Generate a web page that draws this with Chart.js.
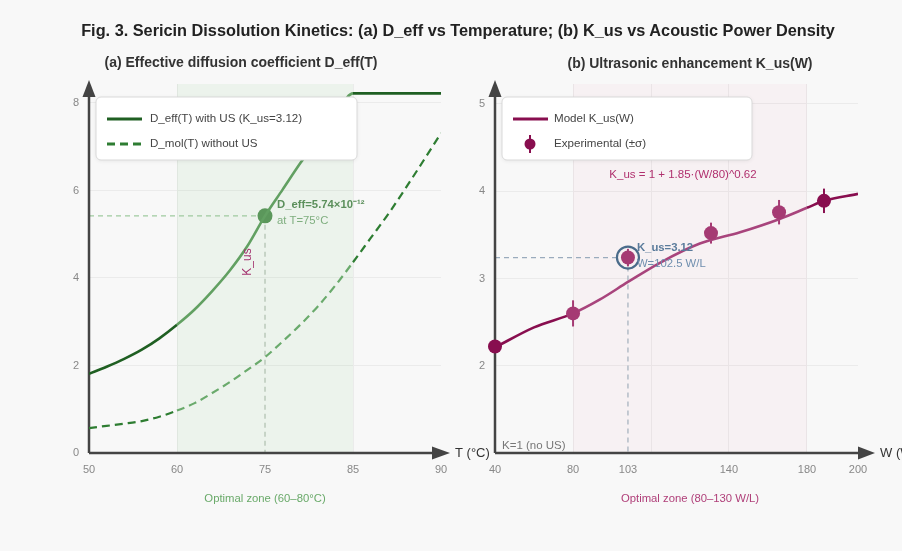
<!DOCTYPE html>
<html>
<head>
<meta charset="utf-8">
<script src="https://cdn.jsdelivr.net/npm/chart.js@4.4.0/dist/chart.umd.min.js"></script>
<style>
  html, body { margin: 0; padding: 0; background: #f8f8f8; }
  #wrap { position: relative; width: 902px; height: 551px; overflow: hidden; font-family: "Liberation Sans", Arial, sans-serif; }
  canvas { position: absolute; left: 0; top: 0; }
  .t { position: absolute; white-space: nowrap; font-weight: bold; color: #333; transform: translate(-50%, -50%); }
</style>
</head>
<body>
<div id="wrap">
  <canvas id="panelA" width="902" height="551"></canvas>
  <canvas id="panelB" width="902" height="551"></canvas>
  <div class="t" style="left:458px;top:30px;font-size:16.3px;color:#222">Fig. 3. Sericin Dissolution Kinetics: (a) D_eff vs Temperature; (b) K_us vs Acoustic Power Density</div>
  <div class="t" style="left:241px;top:62px;font-size:14px">(a) Effective diffusion coefficient D_eff(T)</div>
  <div class="t" style="left:690px;top:63px;font-size:14px">(b) Ultrasonic enhancement K_us(W)</div>
</div>
<script>
const FONT = '"Liberation Sans", Arial, sans-serif';
Chart.defaults.font.family = FONT;

// ---- panel (a): diffusion vs temperature
const tempT = [50, 52, 54, 56, 58, 60, 62, 64, 66, 68, 70, 72, 74, 76, 78, 80, 82, 84, 86, 88, 90];
const dEffUS = [1.81, 1.97, 2.15, 2.36, 2.62, 2.93, 3.28, 3.70, 4.17, 4.73, 5.42, 6.02, 6.62, 7.18, 7.72, 8.22, 8.22, 8.22, 8.22, 8.22, 8.22];
const dMol = [0.57, 0.62, 0.67, 0.73, 0.83, 0.97, 1.14, 1.37, 1.62, 1.90, 2.19, 2.55, 2.93, 3.35, 3.83, 4.36, 4.91, 5.46, 6.06, 6.68, 7.31];
const tickT = [50, 60, 70, 80, 90];
const tickTLabels = ['50', '60', '75', '85', '90'];
const tickD = [0, 2, 4, 6, 8];
const zoneT = [60, 80];
const markT = 70, markD = 5.42;

// ---- panel (b): enhancement vs power density
const powerW = [40, 57.2, 74.4, 86.3, 98.6, 112.7, 130.3, 148.0, 165.2, 177.5, 185.0, 200];
const kModel = [2.21, 2.44, 2.60, 2.76, 2.96, 3.18, 3.40, 3.53, 3.68, 3.81, 3.89, 3.97];
const expW = [40, 74.4, 98.6, 135.2, 165.2, 185.0];
const expK = [2.22, 2.60, 3.24, 3.52, 3.76, 3.89];
const expSigma = [0.07, 0.15, 0.10, 0.12, 0.14, 0.14];
const tickW = [40, 74.4, 98.6, 108.8, 143.1, 177.5, 200];
const tickWLabels = ['40', '80', '103', '', '140', '180', '200'];
const tickK = [2, 3, 4, 5];
const zoneW = [74.4, 177.5];
const markW = 98.6, markK = 3.24;

const inZone = (v, z) => v >= z[0] - 1e-6 && v <= z[1] + 1e-6;
const segColor = (zone, dark, light) => c =>
  inZone((c.p0.parsed.x + c.p1.parsed.x) / 2, zone) ? light : dark;

function line(ctx, x0, y0, x1, y1) {
  ctx.beginPath(); ctx.moveTo(x0, y0); ctx.lineTo(x1, y1); ctx.stroke();
}
function txt(ctx, s, x, y, font, color, align) {
  ctx.font = font; ctx.fillStyle = color;
  ctx.textAlign = align || 'left'; ctx.textBaseline = 'middle';
  ctx.fillText(s, x, y);
}

const decor = {
  id: 'decor',
  beforeDatasetsDraw(chart, args, o) {
    const { ctx, chartArea: a, scales: { x, y } } = chart;
    ctx.save();
    const zx0 = x.getPixelForValue(o.zone[0]), zx1 = x.getPixelForValue(o.zone[1]);
    ctx.fillStyle = o.zoneFill;
    ctx.fillRect(zx0, a.top, zx1 - zx0, a.bottom - a.top);
    const px = x.getPixelForValue(o.mark[0]), py = y.getPixelForValue(o.mark[1]);
    ctx.lineWidth = 1.3; ctx.setLineDash([5, 4]);
    ctx.strokeStyle = o.guideH; line(ctx, a.left, py, px, py);
    ctx.strokeStyle = o.guideV; line(ctx, px, py, px, a.bottom);
    ctx.setLineDash([]);
    // axes with arrows
    ctx.strokeStyle = '#444'; ctx.fillStyle = '#444'; ctx.lineWidth = 2.5;
    line(ctx, a.left, a.bottom, a.left, a.top + 12);
    line(ctx, a.left, a.bottom, a.right + o.arrowX[0], a.bottom);
    ctx.beginPath();
    ctx.moveTo(a.left, a.top - 4); ctx.lineTo(a.left - 6.5, a.top + 13); ctx.lineTo(a.left + 6.5, a.top + 13);
    ctx.closePath(); ctx.fill();
    ctx.beginPath();
    ctx.moveTo(a.right + o.arrowX[1], a.bottom); ctx.lineTo(a.right + o.arrowX[0], a.bottom - 6.5);
    ctx.lineTo(a.right + o.arrowX[0], a.bottom + 6.5);
    ctx.closePath(); ctx.fill();
    txt(ctx, o.xTitle, a.right + o.arrowX[1] + 5, a.bottom, '13px ' + FONT, '#333');
    // error bars
    if (o.errors) {
      const meta = chart.getDatasetMeta(o.errors.dataset);
      ctx.lineWidth = 2;
      meta.data.forEach((pt, i) => {
        const v = expK[i], s = o.errors.sigma[i];
        ctx.strokeStyle = o.errors.colors[i];
        line(ctx, pt.x, y.getPixelForValue(v - s), pt.x, y.getPixelForValue(v + s));
      });
    }
    ctx.restore();
  },
  afterDatasetsDraw(chart, args, o) {
    const { ctx, chartArea: a, scales: { x, y } } = chart;
    ctx.save();
    const px = x.getPixelForValue(o.mark[0]), py = y.getPixelForValue(o.mark[1]);
    if (o.ring) {
      ctx.strokeStyle = o.ring; ctx.lineWidth = 2.2;
      ctx.beginPath(); ctx.arc(px, py, 11, 0, Math.PI * 2); ctx.stroke();
    }
    txt(ctx, o.markLabel[0], px + o.labelOff[0], py + o.labelOff[1], 'bold 11.3px ' + FONT, o.markColor[0]);
    txt(ctx, o.markLabel[1], px + o.labelOff[0], py + o.labelOff[1] + 16, '11.3px ' + FONT, o.markColor[1]);
    (o.texts || []).forEach(t => {
      ctx.save();
      ctx.translate(a.left + t.dx, a.top + t.dy);
      if (t.rot) ctx.rotate(t.rot);
      txt(ctx, t.s, 0, 0, t.font + ' ' + FONT, t.color, t.align);
      ctx.restore();
    });
    // zone caption under axis
    const zc = (x.getPixelForValue(o.zone[0]) + x.getPixelForValue(o.zone[1])) / 2;
    txt(ctx, o.zoneLabel, zc, a.bottom + 46, '11.3px ' + FONT, o.zoneLabelColor, 'center');
    // legend box
    const L = o.legend, bx = a.left + 7, by = a.top + 13;
    ctx.shadowColor = 'rgba(0,0,0,0.08)'; ctx.shadowBlur = 4; ctx.shadowOffsetY = 1;
    ctx.fillStyle = '#fff'; ctx.strokeStyle = '#d9d9d9'; ctx.lineWidth = 1;
    ctx.beginPath(); ctx.roundRect(bx, by, L.w, 63, 5); ctx.fill();
    ctx.shadowColor = 'transparent'; ctx.stroke();
    L.items.forEach((it, i) => {
      const ly = by + 22 + i * 25;
      ctx.strokeStyle = it.color; ctx.fillStyle = it.color;
      if (it.kind === 'point') {
        ctx.lineWidth = 2; line(ctx, bx + 28, ly - 9, bx + 28, ly + 9);
        ctx.beginPath(); ctx.arc(bx + 28, ly, 5.5, 0, Math.PI * 2); ctx.fill();
      } else {
        ctx.lineWidth = 2.8;
        ctx.setLineDash(it.kind === 'dash' ? [8, 5] : []);
        line(ctx, bx + 11, ly, bx + 46, ly);
        ctx.setLineDash([]);
      }
      txt(ctx, it.label, bx + L.textX, ly, '11.6px ' + FONT, '#444');
    });
    ctx.restore();
  }
};

function fixedTicks(vals) {
  return scale => { scale.ticks = vals.map(v => ({ value: v })); };
}
const tickFont = { size: 11 };
const gridCol = '#ebebeb';

new Chart(document.getElementById('panelA'), {
  type: 'line',
  data: {
    datasets: [
      {
        data: tempT.map((t, i) => ({ x: t, y: dEffUS[i] })),
        borderWidth: 2.6, pointRadius: 0, cubicInterpolationMode: 'monotone',
        segment: { borderColor: segColor(zoneT, '#1f5f22', '#62a062') }
      },
      {
        data: tempT.map((t, i) => ({ x: t, y: dMol[i] })),
        borderWidth: 2.2, borderDash: [8, 5], pointRadius: 0, cubicInterpolationMode: 'monotone',
        segment: { borderColor: segColor(zoneT, '#2e7d32', '#6aaa6c') }
      },
      {
        data: [{ x: markT, y: markD }], showLine: false,
        pointRadius: 7.5, pointBackgroundColor: '#5b975b', pointBorderWidth: 0
      }
    ]
  },
  options: {
    responsive: false, animation: false,
    layout: { padding: { left: 59, right: 461, top: 84, bottom: 68 } },
    plugins: {
      legend: { display: false }, tooltip: { enabled: false },
      decor: {
        zone: zoneT, zoneFill: 'rgba(102,187,106,0.08)',
        mark: [markT, markD], guideH: '#9fca9f', guideV: '#b3c2b3',
        arrowX: [-9, 9], xTitle: 'T (°C)',
        markLabel: ['D_eff=5.74×10⁻¹²', 'at T=75°C'], markColor: ['#5b8f5b', '#7fae7f'], labelOff: [12, -11],
        texts: [{ s: 'K_us', dx: 159, dy: 178, rot: -Math.PI / 2, font: '12px', color: '#a3336f', align: 'center' }],
        zoneLabel: 'Optimal zone (60–80°C)', zoneLabelColor: '#6aaa6a',
        legend: { w: 261, textX: 54, items: [
          { kind: 'line', color: '#1f5f22', label: 'D_eff(T) with US (K_us=3.12)' },
          { kind: 'dash', color: '#2e7d32', label: 'D_mol(T) without US' }
        ] }
      }
    },
    scales: {
      x: {
        type: 'linear', min: 50, max: 90,
        afterBuildTicks: fixedTicks(tickT),
        afterFit: s => { s.height = 30; },
        ticks: { font: tickFont, color: '#888', padding: 10, callback: v => tickTLabels[tickT.indexOf(v)] },
        grid: { drawTicks: false, color: c => (c.tick && (c.tick.value === 60 || c.tick.value === 80)) ? gridCol : 'transparent' },
        border: { display: false }
      },
      y: {
        min: 0, max: 8.434,
        afterBuildTicks: fixedTicks(tickD),
        afterFit: s => { s.width = 30; },
        ticks: { font: tickFont, color: '#888', padding: 10 },
        grid: { drawTicks: false, color: c => (c.tick && c.tick.value === 0) ? 'transparent' : gridCol },
        border: { display: false }
      }
    }
  },
  plugins: [decor]
});

const expColors = expW.map(w => inZone(w, zoneW) ? '#a53a73' : '#880e4f');

new Chart(document.getElementById('panelB'), {
  type: 'line',
  data: {
    datasets: [
      {
        data: expW.map((w, i) => ({ x: w, y: expK[i] })), showLine: false, order: 0, clip: false,
        pointRadius: 7, pointBackgroundColor: expColors, pointBorderWidth: 0
      },
      {
        data: powerW.map((w, i) => ({ x: w, y: kModel[i] })), order: 1,
        borderWidth: 2.6, pointRadius: 0, cubicInterpolationMode: 'monotone',
        segment: { borderColor: segColor(zoneW, '#880e4f', '#a8447c') }
      }
    ]
  },
  options: {
    responsive: false, animation: false,
    layout: { padding: { left: 465, right: 44, top: 84, bottom: 68 } },
    plugins: {
      legend: { display: false }, tooltip: { enabled: false },
      decor: {
        zone: zoneW, zoneFill: 'rgba(236,64,122,0.04)',
        mark: [markW, markK], guideH: '#9aabbd', guideV: '#a9b4c0',
        arrowX: [0, 17], xTitle: 'W (W/L)',
        ring: '#4a6b8a',
        errors: { dataset: 0, sigma: expSigma, colors: expColors },
        markLabel: ['K_us=3.12', 'W=102.5 W/L'], markColor: ['#5a7b9b', '#6f8eae'], labelOff: [9, -10],
        texts: [
          { s: 'K_us = 1 + 1.85·(W/80)^0.62', dx: 188, dy: 91, font: '11.5px', color: '#b0306e', align: 'center' },
          { s: 'K=1 (no US)', dx: 7, dy: 362, font: '11.5px', color: '#777', align: 'left' }
        ],
        zoneLabel: 'Optimal zone (80–130 W/L)', zoneLabelColor: '#b0407a',
        legend: { w: 250, textX: 52, items: [
          { kind: 'line', color: '#880e4f', label: 'Model K_us(W)' },
          { kind: 'point', color: '#880e4f', label: 'Experimental (±σ)' }
        ] }
      }
    },
    scales: {
      x: {
        type: 'linear', min: 40, max: 200,
        afterBuildTicks: fixedTicks(tickW),
        afterFit: s => { s.height = 30; },
        ticks: { font: tickFont, color: '#888', padding: 10, autoSkip: false, callback: v => tickWLabels[tickW.indexOf(v)] },
        grid: { drawTicks: false, color: c => (c.tick && [74.4, 108.8, 143.1, 177.5].includes(c.tick.value)) ? gridCol : 'transparent' },
        border: { display: false }
      },
      y: {
        min: 1, max: 5.229,
        afterBuildTicks: fixedTicks(tickK),
        afterFit: s => { s.width = 30; },
        ticks: { font: tickFont, color: '#888', padding: 10 },
        grid: { drawTicks: false, color: gridCol },
        border: { display: false }
      }
    }
  },
  plugins: [decor]
});
</script>
</body>
</html>
